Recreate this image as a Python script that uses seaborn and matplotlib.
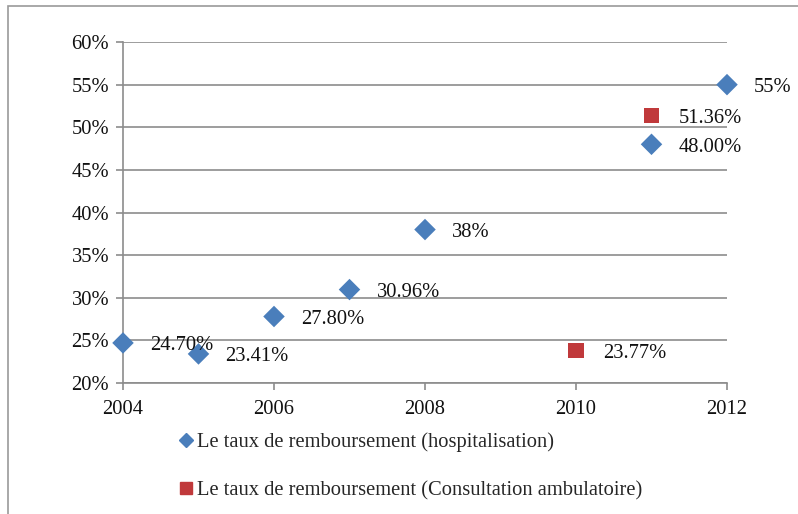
import pandas as pd
import seaborn as sns
import matplotlib.pyplot as plt
from matplotlib.patches import Rectangle
from matplotlib.lines import Line2D

hosp_years = [2004, 2005, 2006, 2007, 2008, 2011, 2012]
hosp_rates = [24.70, 23.41, 27.80, 30.96, 38.00, 48.00, 55.00]
hosp_labels = ['24.70%', '23.41%', '27.80%', '30.96%', '38%', '48.00%', '55%']
amb_years = [2010, 2011]
amb_rates = [23.77, 51.36]
amb_labels = ['23.77%', '51.36%']
series_names = ['Le taux de remboursement (hospitalisation)',
                'Le taux de remboursement (Consultation ambulatoire)']
y_ticks = [20, 25, 30, 35, 40, 45, 50, 55, 60]
x_ticks = [2004, 2006, 2008, 2010, 2012]

blue = '#4a7ebb'
red = '#c0393b'
grey = '#8c8c8c'
fs = 14.8

df = pd.concat([
    pd.DataFrame({'year': hosp_years, 'rate': hosp_rates, 'label': hosp_labels, 'serie': series_names[0]}),
    pd.DataFrame({'year': amb_years, 'rate': amb_rates, 'label': amb_labels, 'serie': series_names[1]}),
])

sns.set_style('white')
plt.rcParams['font.family'] = ['Liberation Serif', 'DejaVu Serif']

fig = plt.figure(figsize=(7.98, 5.14), dpi=100)
ax = fig.add_axes([123 / 798, 1 - 383 / 514, (727 - 123) / 798, (383 - 42) / 514])
fig.patches.append(Rectangle((8 / 798, -0.1), 1.1, 1 - 6 / 514 + 0.1, transform=fig.transFigure,
                             fill=False, edgecolor='#9a9a9a', linewidth=1.2))

sns.scatterplot(data=df, x='year', y='rate', hue='serie', style='serie',
                palette={series_names[0]: blue, series_names[1]: red},
                markers={series_names[0]: 'D', series_names[1]: 's'},
                s=120, edgecolor='none', legend=False, ax=ax, zorder=3, clip_on=False)

for _, r in df.iterrows():
    ax.annotate(r['label'], (r['year'], r['rate']), xytext=(19.5, -2), textcoords='offset points',
                va='center', ha='left', fontsize=fs, color='#111111')

ax.set_xlim(2004, 2012)
ax.set_ylim(20, 60)
ax.set_xticks(x_ticks)
ax.set_yticks(y_ticks)
ax.set_yticklabels([f'{v}%' for v in y_ticks])
ax.set_xlabel('')
ax.set_ylabel('')
ax.grid(axis='y', color=grey, linewidth=1.2)
ax.set_axisbelow(True)
for side in ['top', 'right']:
    ax.spines[side].set_visible(False)
for side in ['left', 'bottom']:
    ax.spines[side].set_color(grey)
    ax.spines[side].set_linewidth(1.2)
ax.tick_params(axis='both', which='major', labelsize=fs, colors='#111111',
               length=5, width=1.2, color=grey, direction='out', left=True, bottom=True)
ax.tick_params(axis='x', pad=7)
ax.tick_params(axis='y', pad=5)

handles = [Line2D([], [], marker='D', color=blue, linestyle='none', markersize=7),
           Line2D([], [], marker='s', color=red, linestyle='none', markersize=8)]
fig.legend(handles, series_names, loc='upper left', bbox_to_anchor=(167 / 798, 1 - 424 / 514),
           frameon=False, fontsize=fs, handletextpad=0.05, handlelength=1.0,
           labelspacing=1.42, borderaxespad=0)

fig.savefig('out.png', dpi=100)
